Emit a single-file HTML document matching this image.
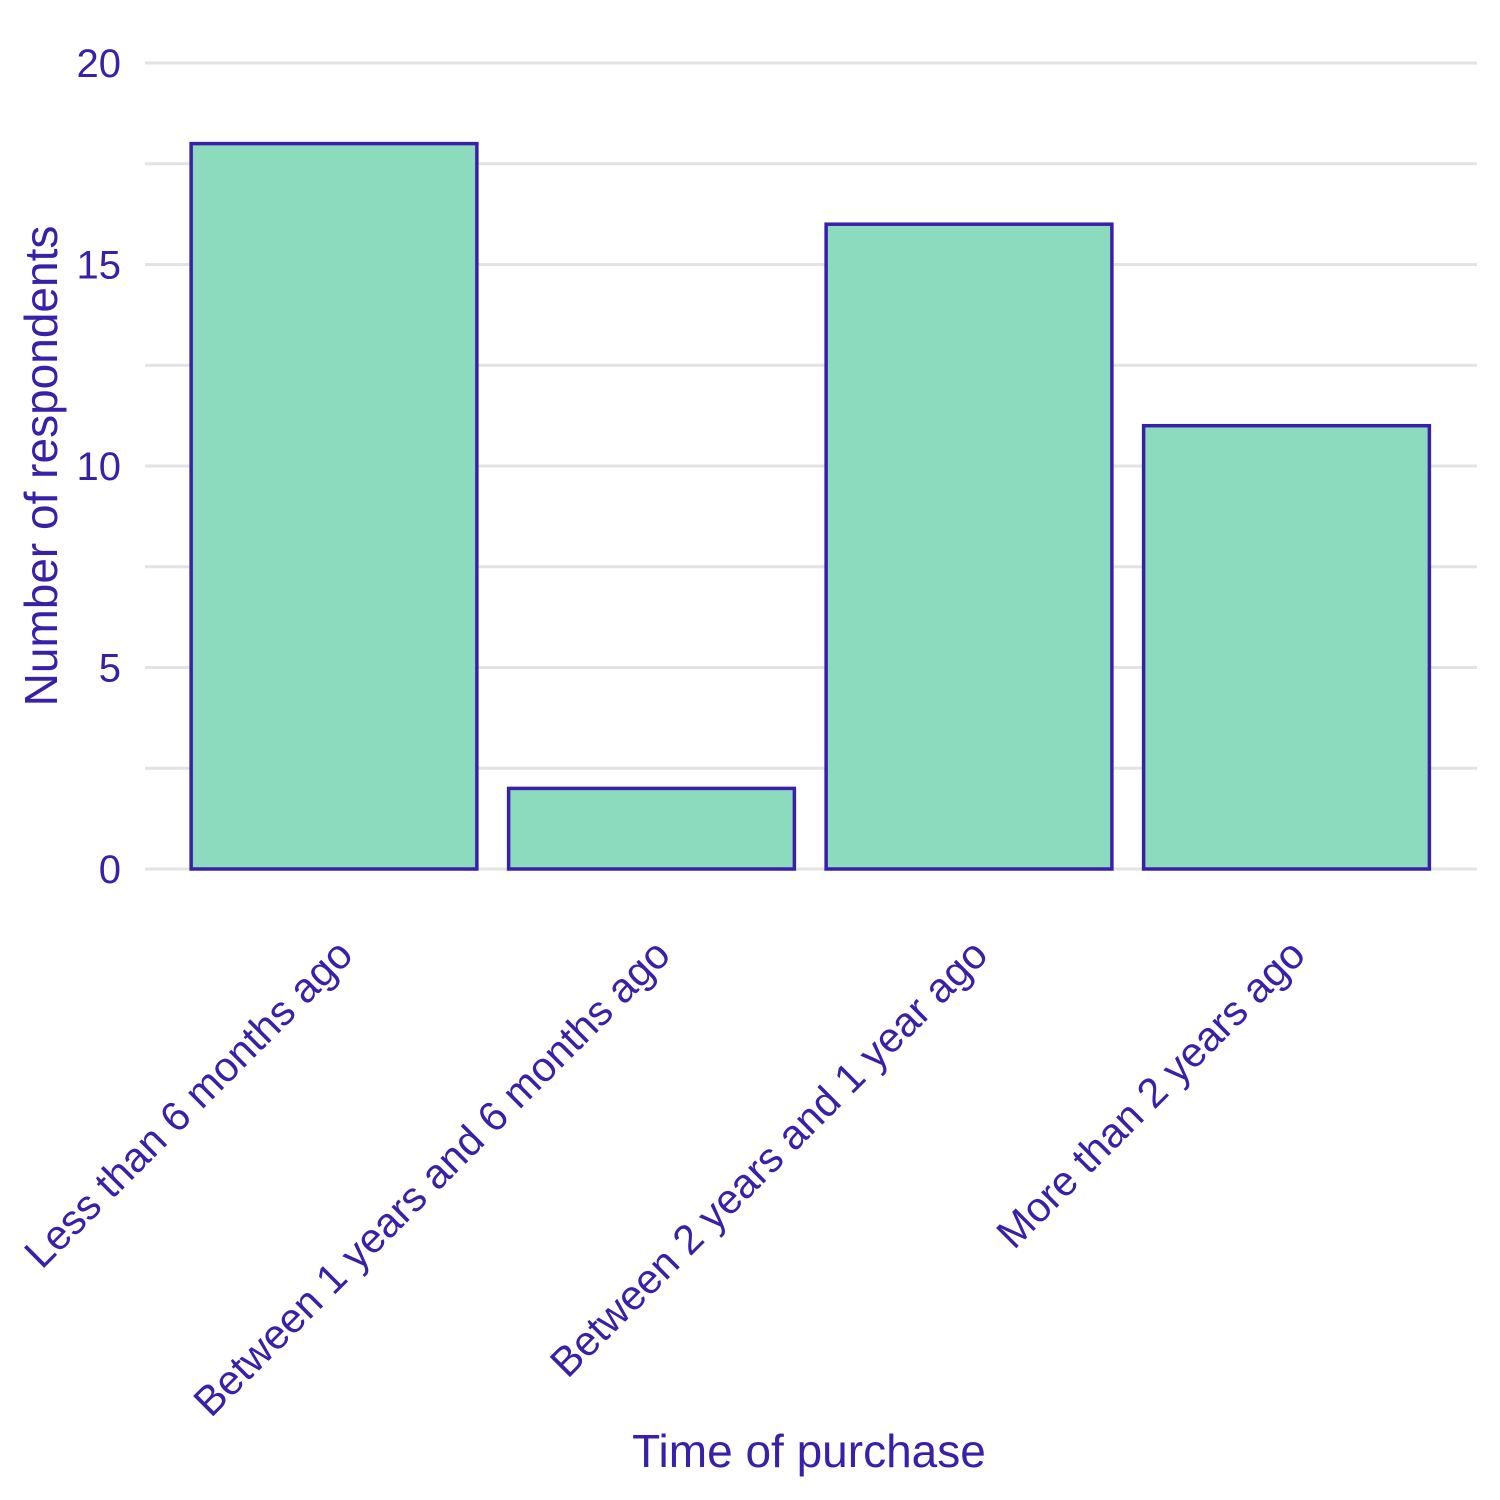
<!DOCTYPE html>
<html><head><meta charset="utf-8"><style>body{margin:0;background:#fff}svg{display:block}</style></head>
<body>
<svg id="chart" width="1500" height="1500" xmlns="http://www.w3.org/2000/svg" font-family="Liberation Sans, sans-serif">
<g id="grid"></g>
<g id="bars"></g>
<g id="yticks"></g>
<g id="xticks"></g>
<text transform="translate(57,466) rotate(-90)" text-anchor="middle" font-size="46" fill="#3a1fa8">Number of respondents</text>
<text x="809" y="1467" text-anchor="middle" font-size="46" fill="#3a1fa8">Time of purchase</text>
</svg>
<script>
const categories = ["Less than 6 months ago","Between 1 years and 6 months ago","Between 2 years and 1 year ago","More than 2 years ago"];
const values = [18, 2, 16, 11];
const yTicks = [0, 5, 10, 15, 20];
const yMinor = [2.5, 7.5, 12.5, 17.5];
const NS = "http://www.w3.org/2000/svg";
const plotL = 145, plotR = 1477, bandL = 175.25, bandR = 1445.25, y0px = 869, y20px = 63;
function y(v){ return y0px - v * (y0px - y20px) / 20; }
const band = (bandR - bandL) / categories.length;
function xc(i){ return bandL + band * (i + 0.5); }
function mk(tag, attrs, parent){ const e = document.createElementNS(NS, tag); for (const k in attrs) e.setAttribute(k, attrs[k]); parent.appendChild(e); return e; }
const grid = document.getElementById('grid');
yTicks.concat(yMinor).forEach(v => {
  const l = mk('line', {x1: plotL, x2: plotR, y1: y(v), y2: y(v), stroke: '#e3e3e3', 'stroke-width': 3}, grid);
  
  
});
const yt = document.getElementById('yticks');
yTicks.forEach(v => {
  const t = mk('text', {x: 121, y: y(v) + 14, 'text-anchor': 'end', 'font-size': 40, fill: '#3a1fa8'}, yt);
  t.textContent = v;
  
  
});
const bars = document.getElementById('bars');
const xt = document.getElementById('xticks');
const bw = band * 0.9;
categories.forEach((c, i) => {
  const r = mk('rect', {x: xc(i) - bw/2, y: y(values[i]), width: bw, height: y(0) - y(values[i]), fill: '#8ddbbf', stroke: '#3a1fa8', 'stroke-width': 3.5}, bars);
  
  
  const t = mk('text', {transform: 'translate(' + (xc(i) + 21) + ',957) rotate(-45)', 'text-anchor': 'end', 'font-size': 41.5, fill: '#3a1fa8'}, xt);
  t.textContent = c;
  
  
});
</script>
</body></html>
